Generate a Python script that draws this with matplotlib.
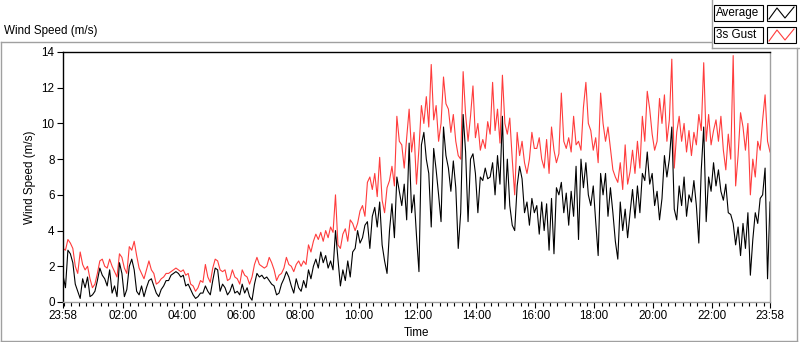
import numpy as np
import matplotlib
matplotlib.use("Agg")
import matplotlib.pyplot as plt
from matplotlib.lines import Line2D
from matplotlib.patches import Rectangle

plt.rcParams['font.family'] = ['Liberation Sans', 'DejaVu Sans']
plt.rcParams['font.size'] = 8.4

# minutes after 23:58, one reading every 5 min, 12 per row = 1 hour
minutos = np.arange(0, 1441, 5)

rafaga = [3.0, 2.9, 3.5, 3.3, 3.0, 2.0, 1.6, 2.8, 2.1, 1.8, 2.0, 1.3,
          0.8, 1.0, 1.6, 2.3, 2.4, 2.0, 1.9, 2.4, 2.0, 1.7, 1.4, 2.7,
          2.5, 1.9, 1.6, 3.1, 2.9, 3.4, 2.6, 1.9, 1.6, 1.3, 1.8, 2.3,
          1.8, 1.6, 1.0, 1.1, 1.3, 1.4, 1.6, 1.6, 1.7, 1.8, 1.9, 1.8,
          1.7, 1.8, 1.5, 1.6, 1.0, 0.9, 0.6, 0.8, 1.2, 1.1, 2.1, 1.4,
          1.1, 1.9, 2.4, 2.3, 1.8, 1.7, 1.8, 1.2, 1.3, 1.8, 1.4, 1.3,
          1.0, 1.8, 1.5, 1.4, 1.0, 1.4, 2.1, 2.5, 2.1, 2.0, 1.9, 2.0,
          2.5, 2.2, 1.8, 1.2, 1.5, 1.6, 1.9, 2.5, 2.1, 2.0, 1.7, 2.1,
          2.3, 2.0, 2.3, 2.1, 3.2, 2.8, 3.4, 3.8, 3.5, 3.9, 3.4, 4.0,
          3.6, 4.2, 3.9, 6.0, 3.2, 3.0, 3.8, 4.1, 3.4, 4.6, 4.4, 4.0,
          4.4, 5.1, 5.4, 4.8, 6.7, 7.0, 6.3, 7.2, 5.9, 8.1, 5.7, 5.0,
          6.4, 6.8, 7.6, 6.5, 10.4, 9.0, 8.8, 7.5, 9.2, 10.8, 8.4, 9.5,
          6.6, 8.6, 11.0, 10.0, 11.5, 9.8, 13.3, 10.2, 11.0, 9.0, 10.0, 12.6,
          11.1, 10.8, 9.5, 10.5, 9.0, 8.2, 8.0, 12.9, 10.5, 9.0, 10.4, 12.1,
          9.2, 10.0, 8.5, 9.1, 8.6, 10.1, 9.4, 12.3, 9.6, 10.8, 8.9, 12.7,
          10.0, 9.4, 10.3, 8.0, 6.0, 9.5, 8.2, 9.0, 7.8, 7.2, 8.0, 9.5,
          8.6, 8.6, 9.2, 8.0, 7.5, 9.1, 7.2, 9.8, 8.5, 7.8, 8.3, 11.7,
          9.0, 8.6, 9.2, 8.4, 10.4, 8.8, 9.0, 8.5, 10.9, 12.3, 10.0, 9.6,
          8.5, 9.2, 7.8, 11.7, 10.0, 9.0, 9.8, 8.6, 7.4, 7.0, 6.7, 7.8,
          6.3, 8.8, 6.6, 7.3, 8.5, 7.2, 9.0, 7.5, 10.4, 9.0, 11.8, 10.8,
          9.4, 8.5, 9.0, 11.4, 10.0, 11.6, 9.0, 10.2, 13.6, 7.5, 9.5, 10.4,
          9.0, 10.0, 8.4, 9.6, 8.2, 9.5, 8.8, 10.5, 9.6, 13.4, 9.0, 10.5,
          8.8, 9.6, 10.2, 9.0, 10.4, 8.5, 7.4, 9.4, 8.0, 13.8, 6.5, 8.2,
          10.6, 9.8, 8.5, 10.0, 6.0, 8.0, 7.0, 9.0, 8.5, 10.2, 11.6, 9.0,
          8.4]

promedio = [1.5, 0.8, 2.9, 2.7, 2.2, 1.0, 0.6, 0.2, 1.3, 0.8, 1.4, 0.3,
            0.4, 0.6, 1.2, 1.9, 1.5, 1.3, 0.9, 1.8, 0.5, 0.9, 0.3, 2.2,
            1.6, 0.3, 0.7, 2.0, 2.4, 1.8, 0.6, 0.4, 0.9, 0.3, 0.8, 1.2,
            1.3, 0.9, 0.5, 0.3, 0.7, 0.9, 1.2, 1.2, 1.5, 1.6, 1.7, 1.6,
            1.4, 1.5, 0.9, 1.0, 0.7, 0.4, 0.2, 0.3, 0.5, 0.5, 0.9, 0.6,
            0.4, 1.2, 1.9, 1.8, 0.6, 1.0, 0.8, 0.4, 0.6, 1.0, 0.5, 0.6,
            0.4, 1.0, 0.5, 0.8, 0.3, 0.1, 1.0, 1.6, 1.4, 1.5, 1.3, 1.4,
            1.2, 1.0, 0.9, 0.4, 0.5, 1.0, 1.3, 1.7, 1.4, 0.9, 0.5, 1.3,
            0.8, 0.6, 1.2, 0.8, 1.8, 1.3, 2.0, 2.4, 1.9, 2.8, 2.2, 2.6,
            1.9, 2.3, 1.8, 4.0, 2.4, 0.9, 1.8, 1.2, 2.3, 1.4, 2.8, 3.0,
            4.0, 3.3, 3.6, 4.3, 4.5, 3.0, 4.8, 5.3, 4.2, 5.6, 3.2, 2.3,
            1.6, 4.0, 5.5, 3.6, 7.0, 6.2, 5.4, 6.6, 4.6, 8.9, 5.0, 6.0,
            3.7, 1.7, 8.8, 9.5, 8.0, 7.2, 4.2, 8.6, 7.4, 6.0, 4.5, 9.8,
            8.2, 7.5, 6.2, 7.9, 6.4, 3.0, 5.0, 10.5, 8.4, 4.5, 8.0, 8.3,
            7.2, 5.0, 7.0, 6.8, 7.5, 6.9, 7.0, 7.8, 6.0, 8.2, 6.6, 10.4,
            5.2, 8.0, 5.4, 4.3, 4.0, 6.5, 7.6, 6.9, 5.0, 5.6, 4.3, 5.8,
            5.0, 5.4, 3.8, 5.6, 4.0, 5.5, 2.9, 5.8, 2.7, 6.4, 6.0, 6.7,
            5.0, 6.1, 4.3, 6.2, 4.8, 7.6, 3.5, 8.0, 6.4, 7.8, 6.0, 5.4,
            6.5, 4.5, 2.6, 7.2, 6.0, 7.2, 4.8, 6.4, 5.0, 3.4, 2.4, 5.6,
            4.0, 5.2, 3.6, 5.0, 6.3, 4.7, 6.5, 5.0, 7.2, 6.8, 8.4, 6.6,
            7.2, 5.4, 6.2, 4.6, 5.8, 8.2, 7.0, 8.0, 9.8, 5.2, 4.6, 6.5,
            5.4, 7.0, 4.8, 6.0, 5.6, 6.8, 5.4, 3.3, 7.4, 9.8, 4.5, 7.0,
            6.2, 7.8, 6.5, 7.4, 6.2, 5.7, 6.6, 5.0, 4.9, 4.4, 3.2, 4.2,
            2.6, 4.4, 3.0, 5.0, 1.5, 3.5, 5.0, 4.4, 5.8, 6.0, 7.5, 1.3,
            5.6]

etiquetas = ["23:58", "02:00", "04:00", "06:00", "08:00", "10:00", "12:00",
             "14:00", "16:00", "18:00", "20:00", "22:00", "23:58"]
posiciones = [0, 122, 242, 362, 482, 602, 722, 842, 962, 1082, 1202, 1322, 1440]

W, H = 800, 342
fig = plt.figure(figsize=(W / 100, H / 100), dpi=100)
ax = fig.add_axes([63 / W, 40 / H, 707 / W, 250 / H])

ax.plot(minutos, rafaga, color="#ff3c3c", lw=0.8)
ax.plot(minutos, promedio, color="black", lw=0.8)

ax.set_xlim(0, 1440)
ax.set_ylim(0, 14)
ax.set_yticks(range(0, 15, 2))
ax.set_xticks(posiciones)
ax.set_xticklabels(etiquetas)
ax.set_xticks(np.arange(2, 1440, 15), minor=True)
ax.tick_params(axis="both", which="major", length=4, width=0.8, pad=2)
ax.tick_params(axis="x", which="minor", length=3, width=0.8)
ax.set_xlabel("Time", labelpad=3)
ax.set_ylabel("Wind Speed (m/s)", labelpad=4)

for lado in ["left", "top"]:
    ax.spines[lado].set_color("black")
    ax.spines[lado].set_linewidth(1.0)
for lado in ["right", "bottom"]:
    ax.spines[lado].set_color("#a0a0a0")
    ax.spines[lado].set_linewidth(1.0)


def fx(x):
    return x / W


def fy(y):
    return 1 - y / H


gris = "#a0a0a0"
marco = [[(1, 42), (712, 42)], [(1, 42), (1, 341)], [(1, 341), (797, 341)],
         [(797, 48), (797, 341)], [(712, 0), (712, 48)], [(712, 48), (800, 48)]]
for (x0, y0), (x1, y1) in marco:
    fig.add_artist(Line2D([fx(x0), fx(x1)], [fy(y0), fy(y1)], color=gris, lw=1.0))

fig.text(fx(4), fy(31), "Wind Speed (m/s)", va="center", ha="left")

# legend
for y0, nombre, color in [(5, "Average", "black"), (27, "3s Gust", "#ff3c3c")]:
    fig.add_artist(Rectangle((fx(714), fy(y0 + 16)), 49 / W, 16 / H, transform=fig.transFigure,
                             facecolor="white", edgecolor="black", lw=0.8))
    fig.text(fx(716), fy(y0 + 8), nombre, va="center", ha="left")
    fig.add_artist(Rectangle((fx(767), fy(y0 + 16)), 29 / W, 16 / H, transform=fig.transFigure,
                             facecolor="white", edgecolor="black", lw=0.8))
    zx = [769, 777, 785, 794]
    zy = [y0 + 14, y0 + 3, y0 + 13, y0 + 2]
    fig.add_artist(Line2D([fx(v) for v in zx], [fy(v) for v in zy], color=color, lw=0.8))

fig.savefig("out.png", dpi=100)
